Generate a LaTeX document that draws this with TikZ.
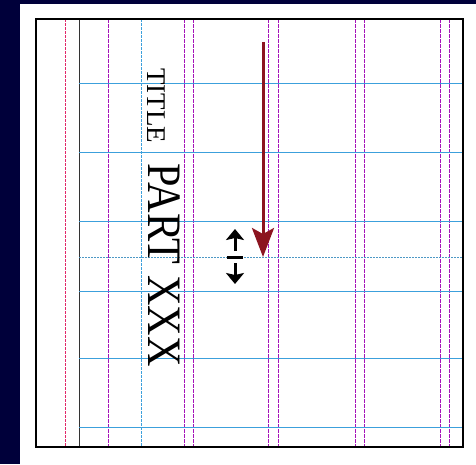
\documentclass[tikz,border=0pt]{standalone}
\usepackage{fontspec}
\setmainfont{Liberation Serif}
\usepackage{graphicx}
\usetikzlibrary{arrows.meta}

\definecolor{pagebg}{RGB}{0,0,58}
\definecolor{guidemag}{RGB}{165,20,185}
\definecolor{guidered}{RGB}{225,40,105}
\definecolor{guideblue}{RGB}{60,160,220}
\definecolor{arrowred}{RGB}{140,20,32}

\begin{document}
\begin{tikzpicture}[x=1pt,y=-1pt]
  \tikzstyle{marginline} = [guidered, line width=1.5pt, dash pattern=on 3pt off 1pt]
  \tikzstyle{colline} = [guidemag, line width=1.5pt, dash pattern=on 4pt off 1pt]
  \tikzstyle{rowline} = [guideblue, line width=1.5pt]
  \tikzstyle{halfline} = [guideblue!75!gray, line width=1.4pt, dash pattern=on 2pt off 1pt]
  \tikzstyle{vtext} = [rotate=-90, anchor=base west, inner sep=0pt]
  \tikzstyle{lead} = [line width=3pt, -{Stealth[length=11pt,width=18pt,inset=2pt]}]

  \useasboundingbox (0,0) rectangle (476,464);
  % dark surround and the white sheet
  \fill[pagebg] (0,0) rectangle (476,464);
  \fill[white] (20,4) rectangle (476,464);

  % vertical guides: margin, spine, columns
  \draw[marginline] (65.5,19) -- (65.5,447);
  \draw[black!80, line width=1.4pt] (79.5,19) -- (79.5,447);
  \draw[colline] (108.5,19) -- (108.5,447);
  \draw[guideblue, line width=1.5pt, dash pattern=on 3pt off 1pt] (141.5,19) -- (141.5,447);
  \foreach \x in {184.5,193.5,268.5,278.5,355.5,364.5,440.5,449.5}
    \draw[colline] (\x,19) -- (\x,447);

  % horizontal rows, plus the half step
  \foreach \y in {83.5,152.5,221.5,291.5,358.5,427.5}
    \draw[rowline] (79,\y) -- (463,\y);
  \draw[halfline] (79,257.5) -- (463,257.5);

  % sheet frame
  \draw[line width=2.5pt] (36,19) rectangle (463,447);

  % running heads, set sideways
  \node (title) [vtext, font=\fontsize{27}{27}\selectfont] at (147,68) {TITLE};
  \node (part)  [vtext, font=\fontsize{48}{48}\selectfont] at (148,163)
      {\scalebox{0.88}[1]{PART XXX}};

  % flow arrow down the column
  \coordinate (flowtop) at (263,42);
  \coordinate (flowend) at (263,257);
  \draw[arrowred, line width=3pt, -{Stealth[length=29pt,width=22pt,inset=6pt]}]
      (flowtop) -- (flowend);

  % half-line leading marker
  \coordinate (barleft)  at (227,257.5);
  \coordinate (barright) at (243,257.5);
  \coordinate (upfrom)   at (235,251);
  \coordinate (upto)     at (235,229);
  \coordinate (downfrom) at (235,263);
  \coordinate (downto)   at (235,284);
  \draw[line width=3pt] (barleft) -- (barright);
  \draw[lead] (upfrom) -- (upto);
  \draw[lead] (downfrom) -- (downto);
\end{tikzpicture}
\end{document}
